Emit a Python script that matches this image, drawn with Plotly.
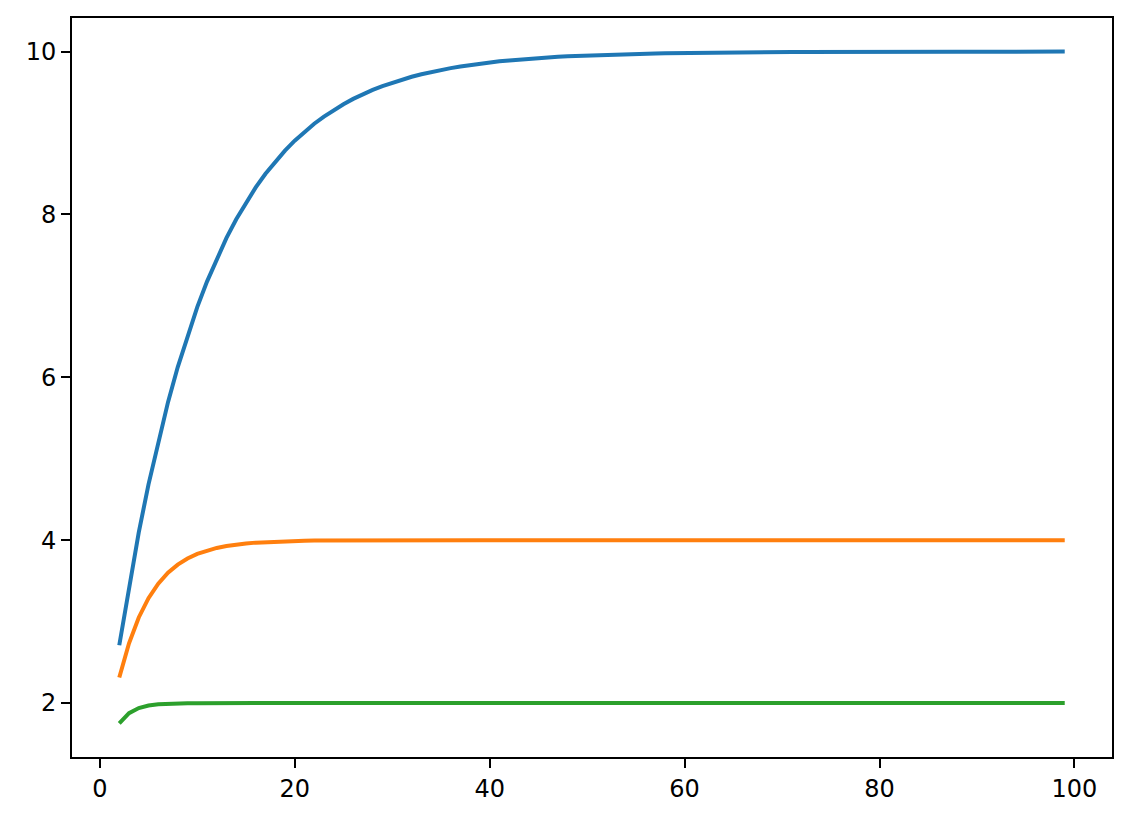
import plotly.graph_objects as go

# x positions 2..99
steps = list(range(2, 100))

blue_vals = [
    2.710, 3.439, 4.095, 4.686, 5.217, 5.695, 6.126, 6.513, 6.862, 7.176,
    7.458, 7.712, 7.941, 8.147, 8.332, 8.499, 8.649, 8.784, 8.906, 9.015,
    9.114, 9.202, 9.282, 9.354, 9.419, 9.477, 9.529, 9.576, 9.618, 9.657,
    9.691, 9.722, 9.750, 9.775, 9.797, 9.818, 9.836, 9.852, 9.867, 9.880,
    9.892, 9.903, 9.913, 9.921, 9.929, 9.936, 9.943, 9.948, 9.954, 9.958,
    9.962, 9.966, 9.970, 9.973, 9.975, 9.978, 9.980, 9.982, 9.984, 9.985,
    9.987, 9.988, 9.989, 9.990, 9.991, 9.992, 9.993, 9.994, 9.994, 9.995,
    9.995, 9.996, 9.996, 9.997, 9.997, 9.997, 9.998, 9.998, 9.998, 9.998,
    9.998, 9.999, 9.999, 9.999, 9.999, 9.999, 9.999, 9.999, 9.999, 9.999,
    9.999, 9.999, 10.0, 10.0, 10.0, 10.0, 10.0, 10.0,
]

orange_vals = [
    2.313, 2.734, 3.051, 3.288, 3.466, 3.600, 3.700, 3.775, 3.831, 3.873,
    3.905, 3.929, 3.947, 3.960, 3.970, 3.977, 3.983, 3.987, 3.990, 3.993,
    3.995, 3.996, 3.997, 3.998, 3.998, 3.999, 3.999, 3.999, 3.999, 4.0,
    4.0, 4.0, 4.0, 4.0, 4.0, 4.0, 4.0, 4.0, 4.0, 4.0,
    4.0, 4.0, 4.0, 4.0, 4.0, 4.0, 4.0, 4.0, 4.0, 4.0,
    4.0, 4.0, 4.0, 4.0, 4.0, 4.0, 4.0, 4.0, 4.0, 4.0,
    4.0, 4.0, 4.0, 4.0, 4.0, 4.0, 4.0, 4.0, 4.0, 4.0,
    4.0, 4.0, 4.0, 4.0, 4.0, 4.0, 4.0, 4.0, 4.0, 4.0,
    4.0, 4.0, 4.0, 4.0, 4.0, 4.0, 4.0, 4.0, 4.0, 4.0,
    4.0, 4.0, 4.0, 4.0, 4.0, 4.0, 4.0, 4.0,
]

green_vals = [
    1.750, 1.875, 1.938, 1.969, 1.984, 1.992, 1.996, 1.998, 1.999, 2.0,
    2.0, 2.0, 2.0, 2.0, 2.0, 2.0, 2.0, 2.0, 2.0, 2.0,
    2.0, 2.0, 2.0, 2.0, 2.0, 2.0, 2.0, 2.0, 2.0, 2.0,
    2.0, 2.0, 2.0, 2.0, 2.0, 2.0, 2.0, 2.0, 2.0, 2.0,
    2.0, 2.0, 2.0, 2.0, 2.0, 2.0, 2.0, 2.0, 2.0, 2.0,
    2.0, 2.0, 2.0, 2.0, 2.0, 2.0, 2.0, 2.0, 2.0, 2.0,
    2.0, 2.0, 2.0, 2.0, 2.0, 2.0, 2.0, 2.0, 2.0, 2.0,
    2.0, 2.0, 2.0, 2.0, 2.0, 2.0, 2.0, 2.0, 2.0, 2.0,
    2.0, 2.0, 2.0, 2.0, 2.0, 2.0, 2.0, 2.0, 2.0, 2.0,
    2.0, 2.0, 2.0, 2.0, 2.0, 2.0, 2.0, 2.0,
]

x_ticks = [0, 20, 40, 60, 80, 100]
y_ticks = [2, 4, 6, 8, 10]

series = [
    (blue_vals, '#1f77b4'),
    (orange_vals, '#ff7f0e'),
    (green_vals, '#2ca02c'),
]

fig = go.Figure()

for vals, color in series:
    fig.add_trace(go.Scatter(
        x=steps,
        y=vals,
        mode='lines',
        line=dict(color=color, width=4),
        showlegend=False
    ))

# matplotlib-like axes: 5% padding, boxed frame, outside ticks
axis_style = dict(
    showgrid=False,
    zeroline=False,
    showline=True,
    linecolor='black',
    linewidth=2,
    mirror=True,
    ticks='outside',
    ticklen=9,
    tickwidth=2,
    tickcolor='black',
    automargin=False,
)

fig.update_xaxes(range=[-2.85, 103.85], tickvals=x_ticks, **axis_style)
fig.update_yaxes(range=[1.3375, 10.4125], tickvals=y_ticks, **axis_style)

# page body adds an 8px offset, so the figure is a bit smaller than the window
fig.update_layout(
    width=1124,
    height=814,
    margin=dict(l=64, r=20, t=10, b=65),
    paper_bgcolor='white',
    plot_bgcolor='white',
    font=dict(family='DejaVu Sans', size=24, color='black'),
)

fig.write_html("out.html")
